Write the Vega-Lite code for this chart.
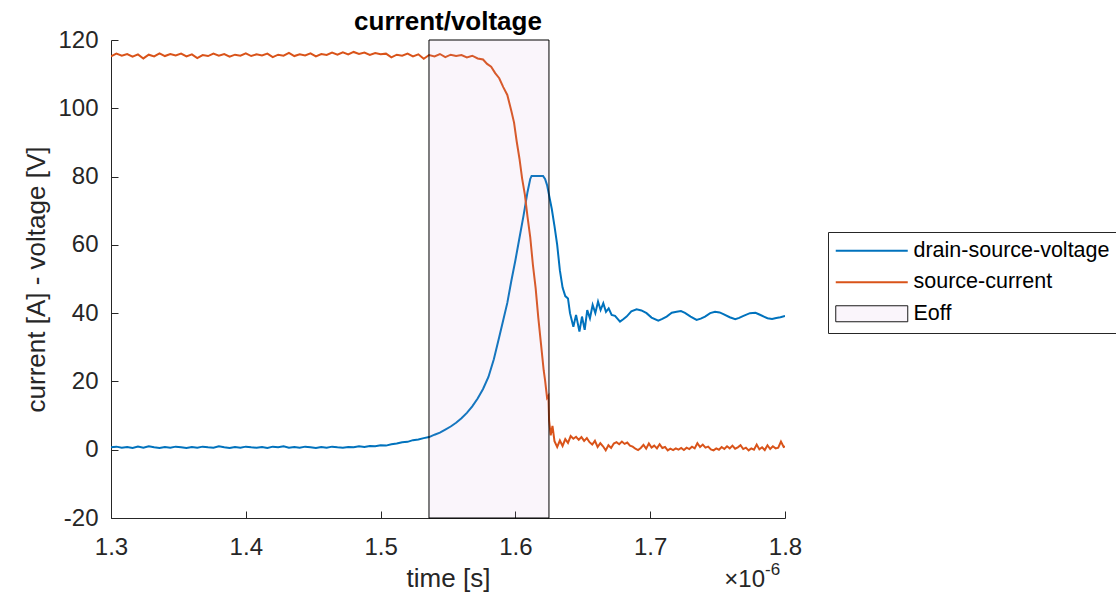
{
  "$schema": "https://vega.github.io/schema/vega-lite/v6.json",
  "width": 674,
  "height": 478,
  "autosize": {"type": "none"},
  "padding": {"left": 111, "top": 40, "right": 331, "bottom": 78},
  "background": "white",
  "title": {
    "text": "current/voltage",
    "frame": "group",
    "anchor": "middle",
    "offset": -7,
    "font": "Liberation Sans",
    "fontSize": 26,
    "fontWeight": "bold",
    "color": "#000000"
  },
  "config": {
    "view": {"stroke": null},
    "font": "Liberation Sans",
    "axis": {
      "grid": false,
      "domainColor": "#262626",
      "domainWidth": 1,
      "tickColor": "#262626",
      "tickWidth": 1,
      "tickSize": -7,
      "labelFont": "Liberation Sans",
      "labelFontSize": 24,
      "labelColor": "#262626",
      "titleFont": "Liberation Sans",
      "titleFontSize": 26,
      "titleFontWeight": "normal",
      "titleColor": "#262626"
    }
  },
  "datasets": {
    "voltage": [
      {"t": 1.300, "v": 0.7}, {"t": 1.304, "v": 0.9}, {"t": 1.308, "v": 0.6}, {"t": 1.312, "v": 0.8},
      {"t": 1.316, "v": 0.5}, {"t": 1.320, "v": 0.9}, {"t": 1.324, "v": 0.6}, {"t": 1.328, "v": 1.0},
      {"t": 1.332, "v": 0.7}, {"t": 1.336, "v": 0.5}, {"t": 1.340, "v": 0.8}, {"t": 1.344, "v": 0.6},
      {"t": 1.348, "v": 0.9}, {"t": 1.352, "v": 0.7}, {"t": 1.356, "v": 0.5}, {"t": 1.360, "v": 0.8},
      {"t": 1.364, "v": 0.6}, {"t": 1.368, "v": 0.9}, {"t": 1.372, "v": 0.7}, {"t": 1.376, "v": 0.6},
      {"t": 1.380, "v": 1.0}, {"t": 1.384, "v": 0.7}, {"t": 1.388, "v": 0.5}, {"t": 1.392, "v": 0.8},
      {"t": 1.396, "v": 0.6}, {"t": 1.400, "v": 0.9}, {"t": 1.404, "v": 0.7}, {"t": 1.408, "v": 0.6},
      {"t": 1.412, "v": 0.8}, {"t": 1.416, "v": 0.5}, {"t": 1.420, "v": 0.9}, {"t": 1.424, "v": 0.7},
      {"t": 1.428, "v": 1.0}, {"t": 1.432, "v": 0.6}, {"t": 1.436, "v": 0.8}, {"t": 1.440, "v": 0.6},
      {"t": 1.444, "v": 0.9}, {"t": 1.448, "v": 0.7}, {"t": 1.452, "v": 0.5}, {"t": 1.456, "v": 0.8},
      {"t": 1.460, "v": 0.6}, {"t": 1.464, "v": 0.9}, {"t": 1.468, "v": 0.7}, {"t": 1.472, "v": 0.6},
      {"t": 1.476, "v": 0.8}, {"t": 1.480, "v": 0.7}, {"t": 1.484, "v": 1.0}, {"t": 1.488, "v": 0.8},
      {"t": 1.492, "v": 1.1}, {"t": 1.496, "v": 1.0}, {"t": 1.500, "v": 1.3}, {"t": 1.504, "v": 1.2},
      {"t": 1.508, "v": 1.6}, {"t": 1.512, "v": 1.8}, {"t": 1.516, "v": 2.2}, {"t": 1.520, "v": 2.3},
      {"t": 1.524, "v": 2.8}, {"t": 1.528, "v": 3.0}, {"t": 1.532, "v": 3.4}, {"t": 1.536, "v": 3.7},
      {"t": 1.540, "v": 4.4}, {"t": 1.544, "v": 5.0}, {"t": 1.548, "v": 5.9}, {"t": 1.552, "v": 6.8},
      {"t": 1.556, "v": 7.9}, {"t": 1.560, "v": 9.2}, {"t": 1.564, "v": 10.8}, {"t": 1.568, "v": 12.7},
      {"t": 1.572, "v": 15.0}, {"t": 1.576, "v": 17.8}, {"t": 1.580, "v": 21.3}, {"t": 1.584, "v": 26.5},
      {"t": 1.588, "v": 33.0}, {"t": 1.591, "v": 38.0}, {"t": 1.594, "v": 43.0}, {"t": 1.597, "v": 49.5},
      {"t": 1.600, "v": 55.5}, {"t": 1.603, "v": 62.0}, {"t": 1.606, "v": 68.5}, {"t": 1.609, "v": 75.5},
      {"t": 1.611, "v": 79.3}, {"t": 1.612, "v": 80.2}, {"t": 1.6205, "v": 80.2}, {"t": 1.622, "v": 79.3},
      {"t": 1.6235, "v": 77.5}, {"t": 1.625, "v": 74.5}, {"t": 1.627, "v": 70.5}, {"t": 1.629, "v": 65.5},
      {"t": 1.631, "v": 60.0}, {"t": 1.633, "v": 52.5}, {"t": 1.635, "v": 47.5}, {"t": 1.637, "v": 45.0},
      {"t": 1.639, "v": 44.3}, {"t": 1.6405, "v": 40.0}, {"t": 1.643, "v": 36.0}, {"t": 1.645, "v": 39.5},
      {"t": 1.6475, "v": 34.6}, {"t": 1.6494, "v": 39.0}, {"t": 1.6514, "v": 35.1}, {"t": 1.6533, "v": 40.9},
      {"t": 1.6553, "v": 38.5}, {"t": 1.6573, "v": 42.4}, {"t": 1.6593, "v": 40.0}, {"t": 1.6613, "v": 43.4},
      {"t": 1.6632, "v": 40.9}, {"t": 1.6652, "v": 42.9}, {"t": 1.6672, "v": 40.4}, {"t": 1.6692, "v": 41.4},
      {"t": 1.6714, "v": 39.5}, {"t": 1.6739, "v": 39.2}, {"t": 1.6776, "v": 37.5}, {"t": 1.680, "v": 38.2},
      {"t": 1.6825, "v": 39.0}, {"t": 1.686, "v": 40.5}, {"t": 1.6899, "v": 41.1}, {"t": 1.6935, "v": 40.8},
      {"t": 1.6973, "v": 40.0}, {"t": 1.701, "v": 38.7}, {"t": 1.706, "v": 37.8}, {"t": 1.709, "v": 38.3},
      {"t": 1.7122, "v": 39.0}, {"t": 1.716, "v": 40.1}, {"t": 1.7196, "v": 40.4}, {"t": 1.7228, "v": 40.6},
      {"t": 1.7258, "v": 40.1}, {"t": 1.730, "v": 39.0}, {"t": 1.7344, "v": 38.0}, {"t": 1.7375, "v": 38.4},
      {"t": 1.7407, "v": 39.0}, {"t": 1.7445, "v": 40.0}, {"t": 1.7481, "v": 40.4}, {"t": 1.7515, "v": 40.2},
      {"t": 1.7543, "v": 39.7}, {"t": 1.759, "v": 38.8}, {"t": 1.7631, "v": 38.2}, {"t": 1.766, "v": 38.6},
      {"t": 1.7692, "v": 39.2}, {"t": 1.774, "v": 40.0}, {"t": 1.7781, "v": 40.1}, {"t": 1.781, "v": 39.6},
      {"t": 1.7843, "v": 39.0}, {"t": 1.787, "v": 38.5}, {"t": 1.7904, "v": 38.3}, {"t": 1.7935, "v": 38.6},
      {"t": 1.7966, "v": 38.8}, {"t": 1.800, "v": 39.2}
    ],
    "current": [
      {"t": 1.300, "v": 115.2}, {"t": 1.304, "v": 116.0}, {"t": 1.308, "v": 115.4}, {"t": 1.312, "v": 115.9},
      {"t": 1.316, "v": 115.1}, {"t": 1.320, "v": 115.8}, {"t": 1.324, "v": 114.6}, {"t": 1.328, "v": 115.7},
      {"t": 1.332, "v": 115.2}, {"t": 1.336, "v": 116.1}, {"t": 1.340, "v": 115.3}, {"t": 1.344, "v": 115.9},
      {"t": 1.348, "v": 115.5}, {"t": 1.352, "v": 116.0}, {"t": 1.356, "v": 115.2}, {"t": 1.360, "v": 115.8},
      {"t": 1.364, "v": 114.7}, {"t": 1.368, "v": 115.6}, {"t": 1.372, "v": 115.3}, {"t": 1.376, "v": 116.0},
      {"t": 1.380, "v": 115.4}, {"t": 1.384, "v": 115.9}, {"t": 1.388, "v": 115.1}, {"t": 1.392, "v": 115.7},
      {"t": 1.396, "v": 115.4}, {"t": 1.400, "v": 116.1}, {"t": 1.404, "v": 115.3}, {"t": 1.408, "v": 115.8},
      {"t": 1.412, "v": 115.5}, {"t": 1.416, "v": 116.0}, {"t": 1.420, "v": 115.0}, {"t": 1.424, "v": 115.7},
      {"t": 1.428, "v": 115.4}, {"t": 1.432, "v": 116.2}, {"t": 1.436, "v": 115.3}, {"t": 1.440, "v": 115.8},
      {"t": 1.444, "v": 115.5}, {"t": 1.448, "v": 116.1}, {"t": 1.452, "v": 115.2}, {"t": 1.456, "v": 115.9},
      {"t": 1.460, "v": 115.6}, {"t": 1.464, "v": 116.3}, {"t": 1.468, "v": 115.7}, {"t": 1.472, "v": 116.4},
      {"t": 1.476, "v": 115.8}, {"t": 1.480, "v": 116.5}, {"t": 1.484, "v": 115.9}, {"t": 1.488, "v": 116.3},
      {"t": 1.492, "v": 115.6}, {"t": 1.496, "v": 116.2}, {"t": 1.500, "v": 115.8}, {"t": 1.504, "v": 116.0},
      {"t": 1.508, "v": 114.9}, {"t": 1.512, "v": 115.7}, {"t": 1.516, "v": 115.4}, {"t": 1.520, "v": 116.0},
      {"t": 1.524, "v": 115.2}, {"t": 1.528, "v": 115.8}, {"t": 1.532, "v": 114.5}, {"t": 1.536, "v": 115.6},
      {"t": 1.540, "v": 115.2}, {"t": 1.544, "v": 115.9}, {"t": 1.548, "v": 115.0}, {"t": 1.552, "v": 115.7},
      {"t": 1.556, "v": 115.3}, {"t": 1.560, "v": 115.6}, {"t": 1.564, "v": 114.9}, {"t": 1.568, "v": 115.4},
      {"t": 1.572, "v": 114.6}, {"t": 1.576, "v": 114.3}, {"t": 1.579, "v": 113.0}, {"t": 1.582, "v": 112.2},
      {"t": 1.585, "v": 110.3}, {"t": 1.588, "v": 108.8}, {"t": 1.591, "v": 106.2}, {"t": 1.594, "v": 103.9},
      {"t": 1.597, "v": 99.2}, {"t": 1.599, "v": 95.8}, {"t": 1.601, "v": 90.2}, {"t": 1.603, "v": 85.3},
      {"t": 1.605, "v": 79.4}, {"t": 1.607, "v": 74.8}, {"t": 1.609, "v": 68.2}, {"t": 1.611, "v": 62.3},
      {"t": 1.613, "v": 54.1}, {"t": 1.615, "v": 47.4}, {"t": 1.617, "v": 38.6}, {"t": 1.619, "v": 30.9},
      {"t": 1.621, "v": 23.2}, {"t": 1.622, "v": 20.4}, {"t": 1.6235, "v": 15.2}, {"t": 1.6245, "v": 15.8},
      {"t": 1.625, "v": 8.5}, {"t": 1.6262, "v": 4.2}, {"t": 1.6275, "v": 7.0}, {"t": 1.629, "v": 2.5},
      {"t": 1.631, "v": 0.8}, {"t": 1.633, "v": 2.7}, {"t": 1.635, "v": 1.1}, {"t": 1.637, "v": 3.1},
      {"t": 1.639, "v": 2.0}, {"t": 1.641, "v": 4.0}, {"t": 1.643, "v": 3.2}, {"t": 1.645, "v": 3.8},
      {"t": 1.647, "v": 2.9}, {"t": 1.649, "v": 3.7}, {"t": 1.651, "v": 2.6}, {"t": 1.653, "v": 3.4},
      {"t": 1.655, "v": 2.2}, {"t": 1.657, "v": 1.5}, {"t": 1.659, "v": 2.6}, {"t": 1.661, "v": 0.8},
      {"t": 1.663, "v": 1.9}, {"t": 1.665, "v": 1.0}, {"t": 1.667, "v": -0.2}, {"t": 1.669, "v": 1.3},
      {"t": 1.671, "v": 0.5}, {"t": 1.673, "v": 1.8}, {"t": 1.675, "v": 2.2}, {"t": 1.677, "v": 1.6},
      {"t": 1.679, "v": 2.4}, {"t": 1.681, "v": 1.7}, {"t": 1.683, "v": 2.1}, {"t": 1.685, "v": 1.2},
      {"t": 1.687, "v": 0.9}, {"t": 1.689, "v": 0.3}, {"t": 1.691, "v": -0.1}, {"t": 1.693, "v": 0.5},
      {"t": 1.695, "v": 1.4}, {"t": 1.697, "v": 0.3}, {"t": 1.699, "v": 1.8}, {"t": 1.701, "v": 0.6},
      {"t": 1.703, "v": 1.2}, {"t": 1.705, "v": 0.4}, {"t": 1.707, "v": 1.6}, {"t": 1.709, "v": 0.5},
      {"t": 1.711, "v": 0.8}, {"t": 1.713, "v": -0.2}, {"t": 1.715, "v": 0.3}, {"t": 1.717, "v": -0.1},
      {"t": 1.719, "v": 0.4}, {"t": 1.721, "v": 0.0}, {"t": 1.723, "v": 0.5}, {"t": 1.725, "v": -0.1},
      {"t": 1.727, "v": 0.6}, {"t": 1.729, "v": 0.2}, {"t": 1.731, "v": 0.9}, {"t": 1.733, "v": 0.4},
      {"t": 1.735, "v": 1.9}, {"t": 1.737, "v": 0.8}, {"t": 1.739, "v": 1.5}, {"t": 1.741, "v": 0.6},
      {"t": 1.743, "v": 0.9}, {"t": 1.745, "v": 0.1}, {"t": 1.747, "v": -0.2}, {"t": 1.749, "v": 0.4},
      {"t": 1.751, "v": 0.0}, {"t": 1.753, "v": 0.8}, {"t": 1.755, "v": 0.2}, {"t": 1.757, "v": 1.0},
      {"t": 1.759, "v": 0.4}, {"t": 1.761, "v": 1.2}, {"t": 1.763, "v": 0.3}, {"t": 1.765, "v": 0.7},
      {"t": 1.767, "v": 1.3}, {"t": 1.769, "v": 0.2}, {"t": 1.771, "v": 0.6}, {"t": 1.773, "v": -0.2},
      {"t": 1.775, "v": 0.4}, {"t": 1.777, "v": 0.0}, {"t": 1.779, "v": 1.5}, {"t": 1.781, "v": 0.1},
      {"t": 1.783, "v": 0.7}, {"t": 1.785, "v": -0.1}, {"t": 1.787, "v": 1.3}, {"t": 1.789, "v": 0.2},
      {"t": 1.791, "v": 1.0}, {"t": 1.793, "v": 0.4}, {"t": 1.795, "v": 0.6}, {"t": 1.797, "v": 2.4},
      {"t": 1.799, "v": 0.8}, {"t": 1.800, "v": 1.0}
    ],
    "eoff": [
      {"t": 1.5359, "t2": 1.6249, "v": -20, "v2": 120}
    ],
    "exponent": [
      {"t": 1.8, "v": -20, "base": "×10", "power": "-6"}
    ]
  },
  "encoding": {
    "x": {
      "field": "t",
      "type": "quantitative",
      "scale": {"domain": [1.3, 1.8], "nice": false, "zero": false},
      "axis": {
        "title": "time [s]",
        "values": [1.3, 1.4, 1.5, 1.6, 1.7, 1.8],
        "format": ".1f",
        "labelFlush": false,
        "labelOverlap": false,
        "labelPadding": 24,
        "titlePadding": 6
      }
    },
    "y": {
      "field": "v",
      "type": "quantitative",
      "scale": {"domain": [-20, 120], "nice": false, "zero": false},
      "axis": {
        "title": "current [A] - voltage [V]",
        "values": [-20, 0, 20, 40, 60, 80, 100, 120],
        "labelExpr": "'' + datum.value",
        "labelPadding": 20,
        "labelOverlap": false,
        "titlePadding": 8
      }
    }
  },
  "layer": [
    {
      "data": {"name": "voltage"},
      "mark": {"type": "line", "strokeWidth": 2, "clip": true},
      "encoding": {
        "color": {
          "datum": "drain-source-voltage",
          "type": "nominal",
          "scale": {
            "domain": ["drain-source-voltage", "source-current", "Eoff"],
            "range": ["#0072BD", "#D95319", "#1A1A1A"]
          },
          "legend": {
            "title": null,
            "orient": "none",
            "legendX": 717,
            "legendY": 192,
            "direction": "vertical",
            "padding": 8,
            "rowPadding": 8.5,
            "strokeColor": "#262626",
            "fillColor": "#FFFFFF",
            "symbolType": "M-3.6,0H3.6",
            "symbolSize": 400,
            "symbolStrokeWidth": 2,
            "symbolOffset": 25,
            "labelOffset": 31,
            "labelFont": "Liberation Sans",
            "labelFontSize": 21.5,
            "labelColor": "#000000",
            "labelLimit": 400,
            "encoding": {
              "symbols": {
                "shape": {"value": {"expr": "datum.value === 'Eoff' ? 'M-3.6,-0.8H3.6V0.8H-3.6Z' : 'M-3.6,0H3.6'"}},
                "fill": {"value": {"expr": "datum.value === 'Eoff' ? '#FAF5FB' : 'transparent'"}},
                "strokeWidth": {"value": {"expr": "datum.value === 'Eoff' ? 1 : 2"}},
                "opacity": {"value": 1}
              }
            }
          }
        }
      }
    },
    {
      "data": {"name": "current"},
      "mark": {"type": "line", "strokeWidth": 2, "clip": true},
      "encoding": {
        "color": {"datum": "source-current", "type": "nominal"}
      }
    },
    {
      "data": {"name": "eoff"},
      "mark": {"type": "rect", "fill": "#CD9BD7", "fillOpacity": 0.1, "stroke": "#000000", "strokeOpacity": 1, "strokeWidth": 1},
      "encoding": {
        "x2": {"field": "t2"},
        "y2": {"field": "v2"}
      }
    },
    {
      "data": {"name": "exponent"},
      "mark": {"type": "text", "align": "right", "baseline": "alphabetic", "dx": -20, "dy": 69, "font": "Liberation Sans", "fontSize": 24, "color": "#262626"},
      "encoding": {
        "text": {"field": "base"}
      }
    },
    {
      "data": {"name": "exponent"},
      "mark": {"type": "text", "align": "left", "baseline": "alphabetic", "dx": -20, "dy": 57, "font": "Liberation Sans", "fontSize": 17, "color": "#262626"},
      "encoding": {
        "text": {"field": "power"}
      }
    }
  ]
}
